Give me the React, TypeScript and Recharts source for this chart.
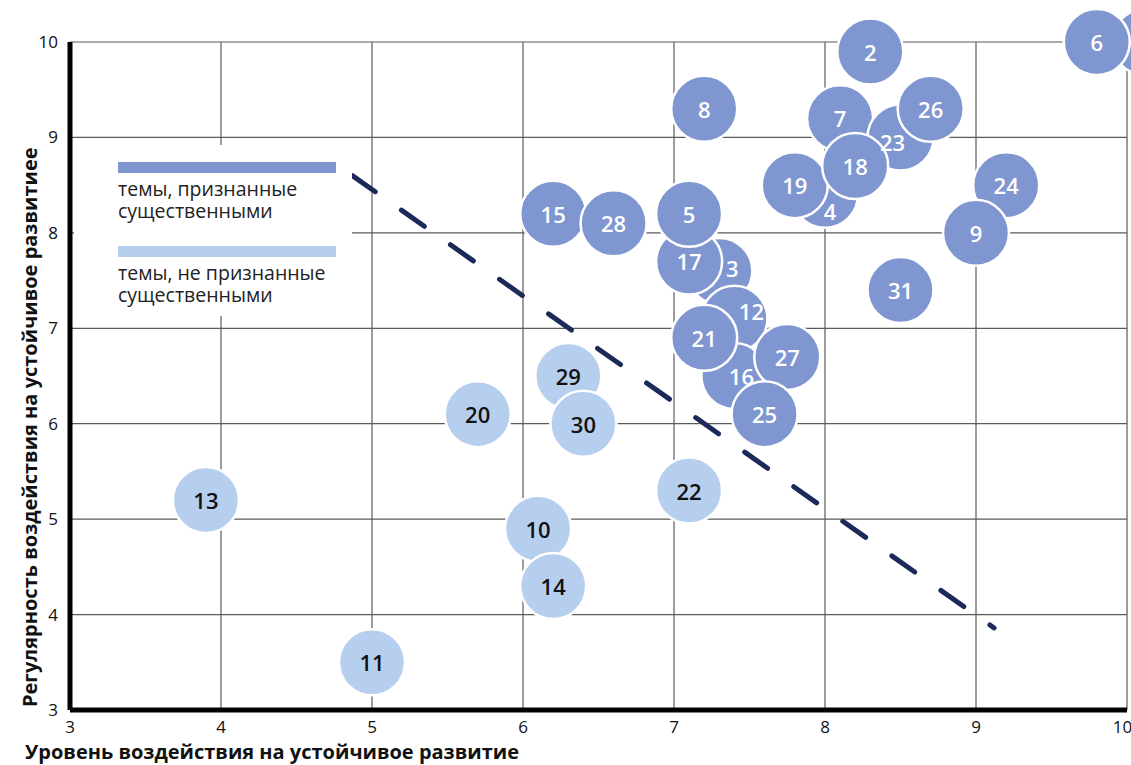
import { ScatterChart, Scatter, XAxis, YAxis, CartesianGrid, ReferenceLine, ReferenceDot } from "recharts";

// topics recognised as material (drawn in this order, later ones on top)
const sigIds = ["6", "2", "8", "7", "23", "26", "4", "19", "18", "24", "9", "31", "15", "28", "3", "17", "5", "12", "16", "21", "27", "25"];
const sigX = [9.8, 8.3, 7.2, 8.1, 8.5, 8.7, 8.0, 7.8, 8.2, 9.2, 9.0, 8.5, 6.2, 6.6, 7.3, 7.1, 7.1, 7.4, 7.4, 7.2, 7.75, 7.6];
const sigY = [10.0, 9.9, 9.3, 9.2, 9.0, 9.3, 8.4, 8.5, 8.7, 8.5, 8.0, 7.4, 8.2, 8.1, 7.6, 7.7, 8.2, 7.1, 6.5, 6.9, 6.7, 6.1];

// topics not recognised as material
const otherIds = ["29", "30", "20", "13", "22", "10", "14", "11"];
const otherX = [6.3, 6.4, 5.7, 3.9, 7.1, 6.1, 6.2, 5.0];
const otherY = [6.5, 6.0, 6.1, 5.2, 5.3, 4.9, 4.3, 3.5];

// bubble lying mostly outside the plot on the right
const edgeX = 10.12;
const edgeY = 10.0;

const ticks = [3, 4, 5, 6, 7, 8, 9, 10];
const thresholdFrom = { x: 4.87, y: 8.6 };
const thresholdTo = { x: 9.12, y: 3.86 };

const xTitle = "Уровень воздействия на устойчивое развитие";
const yTitle = "Регулярность воздействия на устойчивое развитиее";
const legendSig = ["темы, признанные", "существенными"];
const legendOther = ["темы, не признанные", "существенными"];

const DARK = "#7f96d1";
const LIGHT = "#b6cfee";
const FONT = "'Open Sans', 'Noto Sans', sans-serif";

// labels of half-hidden bubbles sit in their visible part
const labelNudge: Record<string, [number, number]> = {
  "4": [5, 16],
  "3": [13, -3],
  "12": [17, -8],
  "16": [7, 0],
  "23": [-8, 5],
};

const sigData = sigIds.map((id, i) => ({ id, x: sigX[i], y: sigY[i] }));
const otherData = otherIds.map((id, i) => ({ id, x: otherX[i], y: otherY[i] }));

const circleShape = (fill: string) => (props: any) => {
  const { cx, cy } = props;
  if (cx == null || cy == null) return <g />;
  return <circle cx={cx} cy={cy} r={33} fill={fill} stroke="#fff" strokeWidth={2.5} />;
};

const labelShape = (color: string) => (props: any) => {
  const { cx, cy, payload } = props;
  if (cx == null || cy == null) return <g />;
  const [dx, dy] = labelNudge[payload.id] ?? [0, 0];
  return (
    <text
      x={cx + dx}
      y={cy + dy}
      textAnchor="middle"
      dominantBaseline="central"
      fontFamily={FONT}
      fontWeight={600}
      fontSize={22}
      fill={color}
    >
      {payload.id}
    </text>
  );
};

function LegendItem({ top, color, lines }: { top: number; color: string; lines: string[] }) {
  return (
    <>
      <div style={{ position: "absolute", left: 44, top, width: 218, height: 11, background: color }} />
      {lines.map((line, i) => (
        <div key={i} style={{ position: "absolute", left: 44, top: top + 16 + i * 22, height: 22, lineHeight: "22px", whiteSpace: "nowrap" }}>
          {line}
        </div>
      ))}
    </>
  );
}

export default function App() {
  return (
    <div style={{ position: "absolute", left: 0, top: 0, width: 1131, height: 765, overflow: "hidden", background: "#fff" }}>
      <ScatterChart width={1131} height={765} margin={{ top: 42, right: 4, bottom: 0, left: 0 }}>
        <CartesianGrid stroke="#5a5a5a" strokeWidth={1.2} />
        <XAxis
          type="number"
          dataKey="x"
          domain={[3, 10]}
          ticks={ticks}
          height={55}
          tickLine={false}
          tickSize={0}
          tickMargin={11}
          axisLine={{ stroke: "#000", strokeWidth: 5 }}
          tick={{ fontFamily: FONT, fontSize: 17, fill: "#111" }}
        />
        <YAxis
          type="number"
          dataKey="y"
          domain={[3, 10]}
          ticks={ticks}
          width={70}
          tickLine={false}
          tickSize={0}
          tickMargin={12}
          axisLine={{ stroke: "#000", strokeWidth: 5 }}
          tick={{ fontFamily: FONT, fontSize: 17, fill: "#111" }}
        />
        <ReferenceDot x={edgeX} y={edgeY} ifOverflow="visible" shape={circleShape(DARK)} />
        <ReferenceLine
          segment={[thresholdFrom, thresholdTo]}
          ifOverflow="visible"
          stroke="#1c2a5a"
          strokeWidth={5}
          strokeDasharray="28 32"
          strokeLinecap="round"
        />
        <Scatter data={otherData} isAnimationActive={false} shape={circleShape(LIGHT)} />
        <Scatter data={otherData} isAnimationActive={false} shape={labelShape("#111")} />
        <Scatter data={sigData} isAnimationActive={false} shape={circleShape(DARK)} />
        <Scatter data={sigData} isAnimationActive={false} shape={labelShape("#fff")} />
      </ScatterChart>

      <div style={{ position: "absolute", left: 74, top: 145, width: 278, height: 171, background: "#fff", fontFamily: FONT, fontSize: 19.5, color: "#222" }}>
        <LegendItem top={17} color={DARK} lines={legendSig} />
        <LegendItem top={101} color={LIGHT} lines={legendOther} />
      </div>

      <svg width={1131} height={765} style={{ position: "absolute", left: 0, top: 0, pointerEvents: "none" }}>
        <text x={25} y={759} fontFamily={FONT} fontWeight={700} fontSize={20} fill="#111">
          {xTitle}
        </text>
        <text x={37} y={707} transform="rotate(-90 37 707)" fontFamily={FONT} fontWeight={700} fontSize={20} fill="#111">
          {yTitle}
        </text>
      </svg>
    </div>
  );
}
